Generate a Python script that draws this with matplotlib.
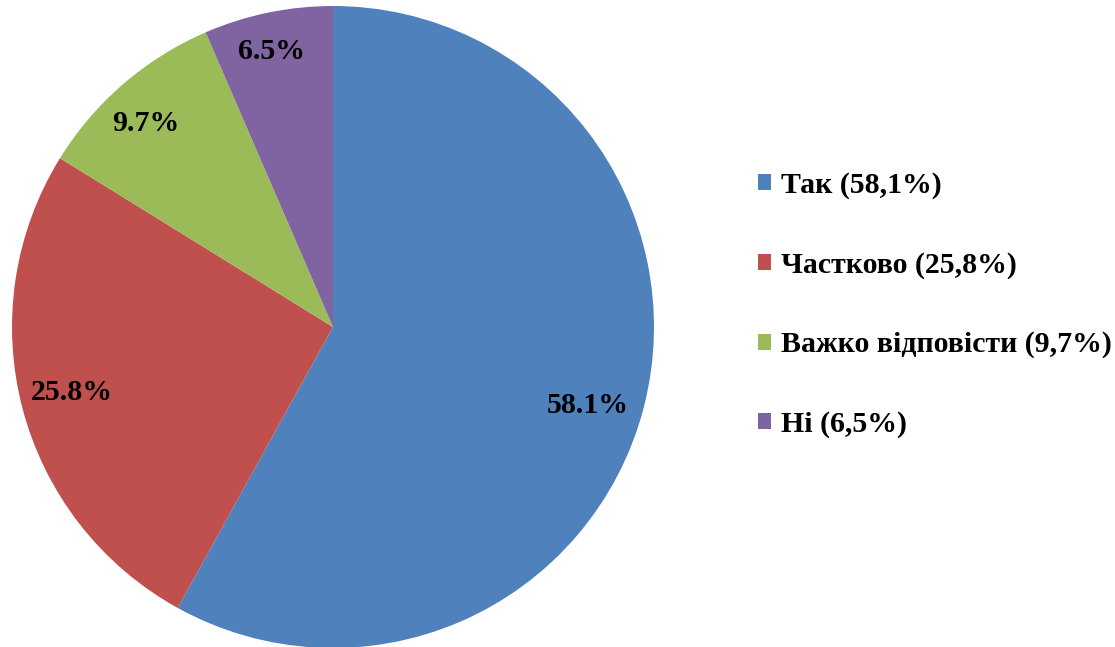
import matplotlib
matplotlib.use("Agg")
import matplotlib.pyplot as plt
import numpy as np
from matplotlib.patches import Patch

categories = ["Так", "Частково", "Важко відповісти", "Ні"]
values = [58.1, 25.8, 9.7, 6.5]
colors = ["#4F81BD", "#C0504D", "#9BBB59", "#8064A2"]

# label placement inside wedges (radius fraction, angle nudge in degrees)
label_dist = [0.83, 0.84, 0.86, 0.88]
label_nudge = [-2.7, -0.5, 1.8, 0.8]

plt.rcParams["font.family"] = ["Liberation Serif", "DejaVu Serif"]
plt.rcParams["font.weight"] = "bold"

W, H = 1115, 647
fig = plt.figure(figsize=(W / 100, H / 100), dpi=100)

# pie centre and radius in pixels
cx, cy, r = 333, 327, 321
ax = fig.add_axes([(cx - r) / W, (H - cy - r) / H, 2 * r / W, 2 * r / H])

wedges, _ = ax.pie(
    values,
    colors=colors,
    startangle=90,
    counterclock=False,
    wedgeprops=dict(linewidth=0),
)
for w, v, d, n in zip(wedges, values, label_dist, label_nudge):
    ang = np.deg2rad((w.theta1 + w.theta2) / 2 + n)
    ax.text(d * np.cos(ang), d * np.sin(ang), f"{v:.1f}%",
            ha="center", va="center", fontsize=21.5, fontweight="bold")

ax.set_xlim(-1, 1)
ax.set_ylim(-1, 1)
ax.set_aspect("equal")
ax.axis("off")

labels = [f"{c} ({v:.1f}%)".replace(".", ",") for c, v in zip(categories, values)]
handles = [Patch(facecolor=col, edgecolor="none") for col in colors]
fig.legend(
    handles, labels,
    loc="upper left",
    bbox_to_anchor=(758 / W, 1 - 172 / H),
    frameon=False,
    fontsize=21.5,
    handlelength=0.45,
    handleheight=0.45,
    handletextpad=0.33,
    labelspacing=1.75,
    borderpad=0,
    borderaxespad=0,
)

fig.savefig("out.png", dpi=100)
